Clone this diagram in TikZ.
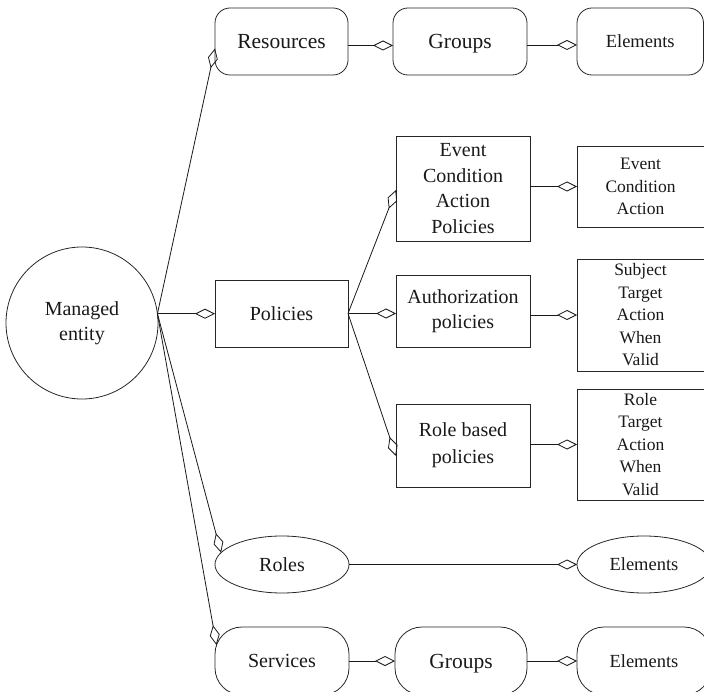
\documentclass[tikz,border=0pt]{standalone}
\usepackage{fontspec}
\setmainfont{Liberation Serif}
\usetikzlibrary{arrows.meta,shapes.geometric}
\begin{document}
\begin{tikzpicture}[x=1pt,y=-1pt,
  every node/.style={inner sep=0pt, outer sep=0pt, align=center,
    line width=0.8pt, draw=black!85, text=black!90},
  big/.style={font=\fontsize{20}{25.5}\selectfont},
  bigger/.style={font=\fontsize{21.5}{26}\selectfont, text depth=0pt},
  small/.style={font=\fontsize{17.5}{22.5}\selectfont},
  elfont/.style={font=\fontsize{18.5}{22}\selectfont},
  rbox/.style={rectangle, rounded corners=15pt, minimum width=133pt, minimum height=67pt},
  pill/.style={rectangle, rounded corners=27pt, minimum width=134pt, minimum height=68pt},
  sbox/.style={rectangle},
  oval/.style={ellipse, minimum width=134pt, minimum height=57pt},
  agg/.style={-{Diamond[open,length=20pt,width=10pt]}, line width=0.8pt, draw=black!90},
]
\useasboundingbox (0,0) rectangle (704,692);

% the managed entity
\node[circle, minimum size=152pt, big] (me) at (82,323) {Managed\\entity};

% resources row
\node[rbox, bigger] (res) at (281.5,41.5) {Resources};
\node[rbox, bigger, minimum width=134pt] (grp) at (460,41.5) {Groups};
\node[rbox, elfont, minimum width=126.5pt] (el) at (640.25,41.5) {Elements};

% policies and their kinds
\node[sbox, big, minimum width=133pt, minimum height=67pt] (pol) at (281.5,313.5) {Policies};
\node[sbox, big, minimum width=134pt, minimum height=105pt] (eca) at (463,188.5) {Event\\Condition\\Action\\Policies};
\node[sbox, small, minimum width=127pt, minimum height=81pt] (ecar) at (640.5,186.5) {Event\\Condition\\Action};
\node[sbox, big, minimum width=134pt, minimum height=72pt] (auth) at (463,311) {Authorization\\policies};
\node[sbox, small, minimum width=127pt, minimum height=112pt] (subj) at (640.5,315) {Subject\\Target\\Action\\When\\Valid};
\node[sbox, font=\fontsize{20}{27}\selectfont, minimum width=134pt, minimum height=83pt] (rb) at (463,445.5) {Role based\\policies};
\node[sbox, small, minimum width=127pt, minimum height=111pt] (rl) at (640.5,444.5) {Role\\Target\\Action\\When\\Valid};

% roles row
\node[oval, big] (roles) at (282,564.5) {Roles};
\node[oval, elfont] (elr) at (644,564.5) {Elements};

% services row
\node[pill, big] (serv) at (282,661) {Services};
\node[pill, bigger, minimum width=132pt] (grpb) at (461,661) {Groups};
\node[pill, elfont] (elb) at (644,661) {Elements};

% aggregation links from the managed entity
\draw[agg] (me.7.5) -- ([yshift=-7pt]res.west);
\draw[agg] (me.7.5) -- (me.7.5 -| pol.west);
\draw[agg] (me.7.5) -- (roles.169);
\draw[agg] (me.7.5) -- ([xshift=1.5pt,yshift=16pt]serv.west);

% policy kinds
\draw[agg] (pol.east) -- ([yshift=-1.5pt]eca.west);
\draw[agg] (pol.east) -- (pol.east -| auth.west);
\draw[agg] (pol.east) -- ([yshift=-10.5pt]rb.west);

% parts of each element
\draw[agg] ([yshift=-4pt]res.east) -- ([yshift=-4pt]grp.west);
\draw[agg] ([yshift=-3.5pt]grp.east) -- ([yshift=-3.5pt]el.west);
\draw[agg] (eca.east |- ecar.west) -- (ecar.west);
\draw[agg] (auth.east |- subj.west) -- (subj.west);
\draw[agg] (rb.east |- rl.west) -- (rl.west);
\draw[agg] (roles.east) -- (elr.west);
\draw[agg] (serv.east) -- (grpb.west);
\draw[agg] (grpb.east) -- (elb.west);
\end{tikzpicture}
\end{document}
